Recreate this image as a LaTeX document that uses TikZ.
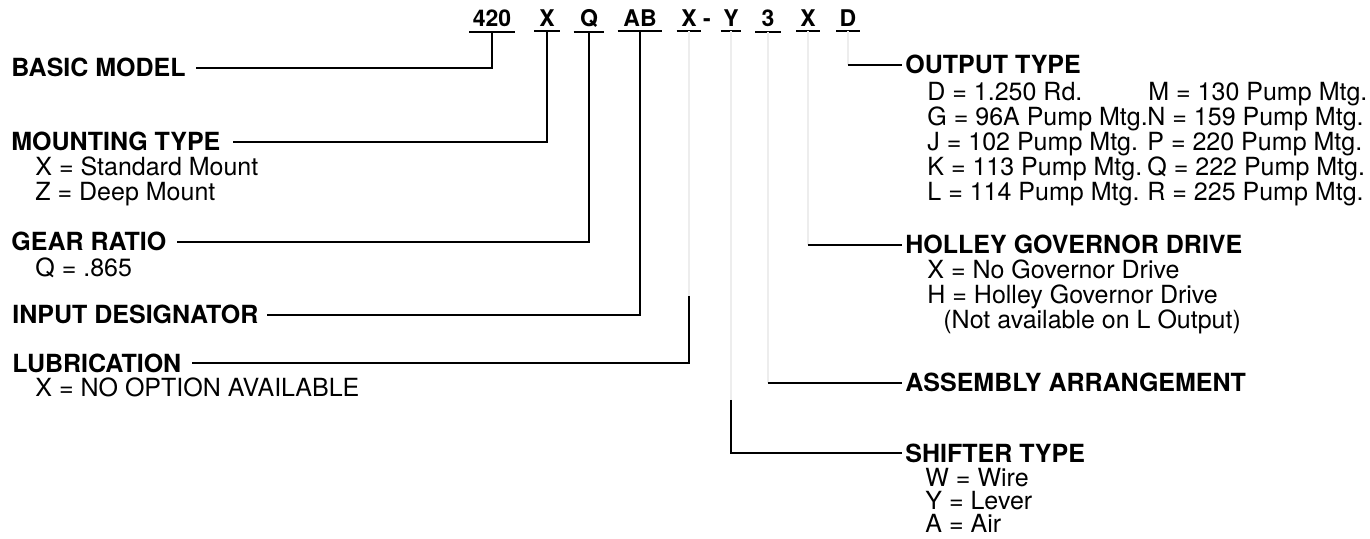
\documentclass[tikz,border=0pt]{standalone}
\usepackage{fontspec}
\setmainfont{TeX Gyre Heros}
\usetikzlibrary{calc}
\tikzset{
  ln/.style={line width=0.9pt, black},
  faded/.style={line width=0.8pt, black!7},
  head/.style={anchor=base west, inner sep=0pt, font=\fontsize{12.5}{15}\selectfont\bfseries},
  item/.style={anchor=base west, inner sep=0pt, font=\fontsize{12.5}{15}\selectfont},
  code/.style={anchor=base, inner xsep=0pt, inner ysep=2pt, font=\fontsize{11.5}{14}\selectfont\bfseries},
}
\begin{document}
\begin{tikzpicture}[x=0.5pt,y=-0.5pt]
\useasboundingbox (0,0) rectangle (1370,539);
% code letters
\node[code,minimum width=22.5pt] (c1) at (492,27) {420};
\node[code,minimum width=12.5pt] (c2) at (547,27) {X};
\node[code,minimum width=15pt]   (c3) at (589,27) {Q};
\node[code,minimum width=22pt]   (c4) at (640,27) {AB};
\node[code,minimum width=12pt]   (c5) at (689,27) {X};
\node[code] (hy) at (707,27) {-};
\node[code,minimum width=10pt]   (c6) at (731,27) {Y};
\node[code,minimum width=12.5pt] (c7) at (768,27) {3};
\node[code,minimum width=11.5pt] (c8) at (808,27) {X};
\node[code,minimum width=11.5pt] (c9) at (848,27) {D};
\foreach \c in {c1,c2,c3,c4,c5,c6,c7,c8,c9}
  \draw[ln] (\c.south west) -- (\c.south east);
% left headings
\node[head] (bm) at (11,77) {BASIC MODEL};
\node[head] (mt) at (11,151) {MOUNTING TYPE};
\node[item] (mt1) at (35,176) {X = Standard Mount};
\node[item] (mt2) at (35,201) {Z = Deep Mount};
\node[head] (gr) at (11,251) {GEAR RATIO};
\node[item] (gr1) at (35,277) {Q = .865};
\node[head] (id) at (12,324) {INPUT DESIGNATOR};
\node[head] (lu) at (12,372) {LUBRICATION};
\node[item] (lu1) at (35,397) {X = NO OPTION AVAILABLE};
% left connectors
\draw[ln] (c1.south) |- ([xshift=5pt]bm.east);
\draw[ln] (c2.south) |- ([xshift=6pt]mt.east);
\draw[ln] (c3.south) |- ([xshift=5pt]gr.east);
\draw[ln] (c4.south) |- ([xshift=4pt]id.east);
\coordinate (k5) at (c5.south |- lu.east);
\draw[faded] (c5.south) -- ($(k5)+(0,-67)$);
\draw[ln] ($(k5)+(0,-67)$) -- (k5) -- ([xshift=5pt]lu.east);
% right headings
\node[head] (ot) at (905,74) {OUTPUT TYPE};
\node[item] (o1) at (927,101) {D = 1.250 Rd.};
\node[item] (o2) at (927,126) {G = 96A Pump Mtg.};
\node[item] (o3) at (927,151) {J = 102 Pump Mtg.};
\node[item] (o4) at (927,176) {K = 113 Pump Mtg.};
\node[item] (o5) at (927,201) {L = 114 Pump Mtg.};
\node[item] (o6) at (1148,101) {M = 130 Pump Mtg.};
\node[item] (o7) at (1147,126) {N = 159 Pump Mtg.};
\node[item] (o8) at (1147,151) {P = 220 Pump Mtg.};
\node[item] (o9) at (1147,176) {Q = 222 Pump Mtg.};
\node[item] (o10) at (1147,201) {R = 225 Pump Mtg.};
\node[head] (hg) at (905,254) {HOLLEY GOVERNOR DRIVE};
\node[item] (hg1) at (927,279) {X = No Governor Drive};
\node[item] (hg2) at (927,304) {H = Holley Governor Drive};
\node[item] (hg3) at (943,329) {(Not available on L Output)};
\node[head] (aa) at (905,392) {ASSEMBLY ARRANGEMENT};
\node[head] (st) at (905,462) {SHIFTER TYPE};
\node[item] (st1) at (925,486) {W = Wire};
\node[item] (st2) at (925,509) {Y = Lever};
\node[item] (st3) at (925,532) {A = Air};
% right connectors
\coordinate (k9) at (c9.south |- ot.west);
\draw[faded] (c9.south) -- (k9);
\draw[ln] (k9) -- ([xshift=-1.5pt]ot.west);
\coordinate (k8) at (c8.south |- hg.west);
\draw[faded] (c8.south) -- (k8);
\draw[ln] (k8) -- ([xshift=-1.5pt]hg.west);
\coordinate (k7) at (c7.south |- aa.west);
\draw[faded] (c7.south) -- (k7);
\draw[ln] (k7) -- ([xshift=-1.5pt]aa.west);
\coordinate (k6) at (c6.south |- st.west);
\draw[faded] (c6.south) -- ($(k6)+(0,-53)$);
\draw[ln] ($(k6)+(0,-53)$) -- (k6) -- ([xshift=-1.5pt]st.west);
\end{tikzpicture}
\end{document}
